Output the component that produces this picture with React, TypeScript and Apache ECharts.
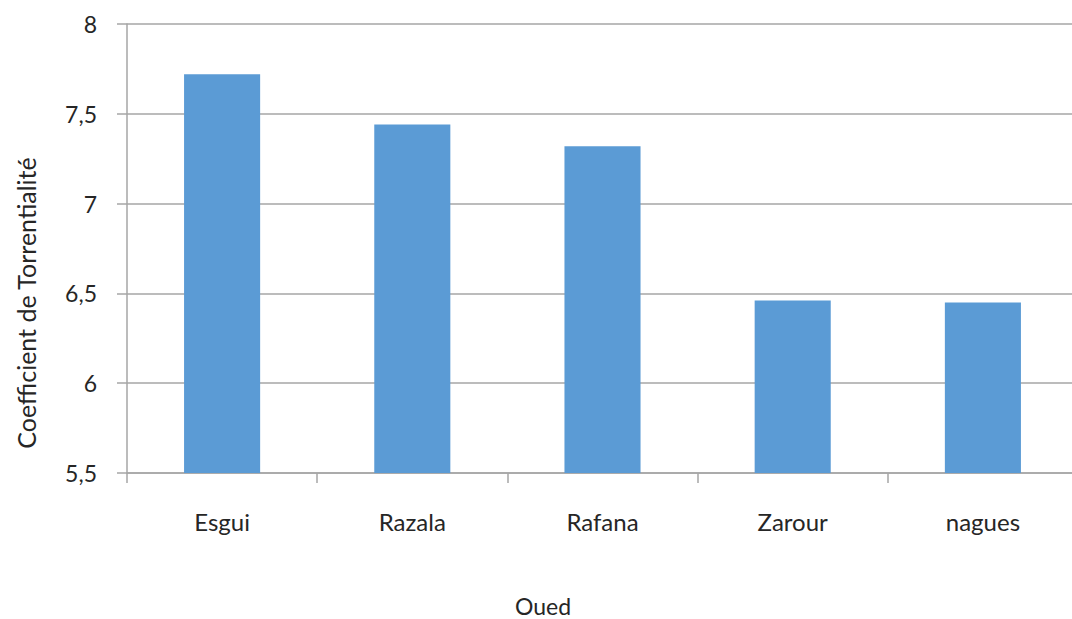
import React, { useEffect, useRef } from "react";
import * as echarts from "echarts";

const categories = ["Esgui", "Razala", "Rafana", "Zarour", "nagues"];
const values = [7.72, 7.44, 7.32, 6.46, 6.45];
const yMin = 5.5;
const yMax = 8;
const yInterval = 0.5;
const yAxisTitle = "Coefficient de Torrentialité";
const xAxisTitle = "Oued";

const FONT = "Lato, 'Noto Sans', sans-serif";

export default function App() {
  const ref = useRef<HTMLDivElement>(null);
  useEffect(() => {
    if (!ref.current) return;
    const chart = echarts.init(ref.current, undefined, { renderer: "svg" });
    chart.setOption({
      animation: false,
      backgroundColor: "#ffffff",
      grid: { left: 127, top: 24, right: 2, bottom: 146, containLabel: false },
      xAxis: {
        type: "category",
        data: categories,
        boundaryGap: true,
        axisLine: { show: true, lineStyle: { color: "#a6a6a6", width: 1.5 } },
        axisTick: { show: true, length: 10, lineStyle: { color: "#a6a6a6", width: 1.5 } },
        axisLabel: { color: "#262626", fontSize: 24, fontFamily: FONT, margin: 36 },
        splitLine: { show: false },
      },
      yAxis: {
        type: "value",
        min: yMin,
        max: yMax,
        interval: yInterval,
        axisLine: { show: true, lineStyle: { color: "#a6a6a6", width: 1.5 } },
        axisTick: { show: true, length: 10, inside: false, lineStyle: { color: "#a6a6a6", width: 1.5 } },
        axisLabel: {
          color: "#262626",
          fontSize: 23,
          fontFamily: FONT,
          margin: 30,
          formatter: (v: number) => String(v).replace(".", ","),
        },
        splitLine: { show: true, lineStyle: { color: "#a6a6a6", width: 1.5 } },
      },
      series: [
        {
          type: "bar",
          data: values,
          barWidth: "40%",
          itemStyle: { color: "#5b9bd5" },
        },
      ],
      graphic: [
        {
          type: "text",
          x: 26,
          y: 303,
          rotation: Math.PI / 2,
          style: {
            text: yAxisTitle,
            fill: "#262626",
            fontSize: 25,
            fontFamily: FONT,
            textAlign: "center",
            textVerticalAlign: "middle",
          },
        },
        {
          type: "text",
          x: 543,
          y: 606,
          style: {
            text: xAxisTitle,
            fill: "#262626",
            fontSize: 23,
            fontFamily: FONT,
            textAlign: "center",
            textVerticalAlign: "middle",
          },
        },
      ],
    });
    return () => chart.dispose();
  }, []);
  return (
    <div
      ref={ref}
      style={{ position: "fixed", left: 0, top: 0, width: 1080, height: 619, background: "#fff" }}
    />
  );
}
